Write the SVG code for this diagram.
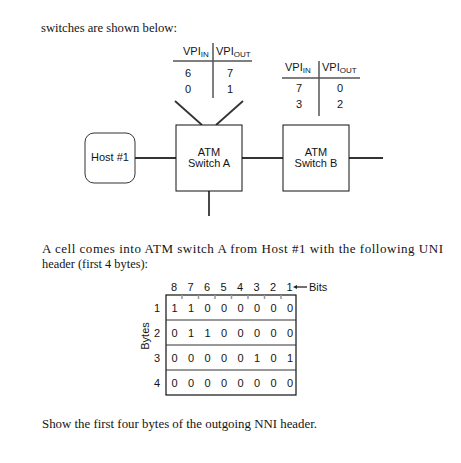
<svg xmlns="http://www.w3.org/2000/svg" width="461" height="463" viewBox="0 0 461 463">
<defs>
<marker id="arr" viewBox="0 0 10 10" refX="1" refY="5" markerWidth="4.5" markerHeight="4.5" orient="auto-start-reverse" markerUnits="userSpaceOnUse">
<path d="M0,0 L10,5 L0,10 z" fill="#222"/>
</marker>
<style>
.para{font-family:"Liberation Serif","Times New Roman",serif;font-size:13px;fill:#141414}
.sans{font-family:"Liberation Sans",Arial,sans-serif;font-size:11px;fill:#141414}
.sub{font-size:8px}
.mid{text-anchor:middle}
.end{text-anchor:end}
.box{fill:#fff;stroke:#111;stroke-width:1}
.conn{stroke:#333;stroke-width:1.8;fill:none}
.tline{stroke:#555;stroke-width:1.5;fill:none}
.tick{stroke:#999;stroke-width:1.5}
.row{stroke:#333;stroke-width:1}
</style>
</defs>
<rect width="461" height="463" fill="#fff"/>

<text class="para" x="41" y="32" textLength="136" lengthAdjust="spacingAndGlyphs">switches are shown below:</text>

<g id="connectors">
<line class="conn" x1="135" y1="158" x2="176" y2="158"/>
<line class="conn" x1="242" y1="158" x2="283" y2="158"/>
<line class="conn" x1="349" y1="158" x2="383" y2="158"/>
<line class="conn" x1="209" y1="191" x2="209" y2="216" stroke="#111" stroke-width="2.2"/>
<line class="conn" x1="175" y1="101" x2="202" y2="125" stroke="#111" stroke-width="2"/>
<line class="conn" x1="243" y1="101" x2="216" y2="125" stroke="#111" stroke-width="2"/>
</g>

<g id="host1">
<rect x="85" y="133" width="50" height="50" rx="9" fill="#fff" stroke="#333" stroke-width="1"/>
<text class="sans mid" x="110" y="161" font-size="10.5">Host #1</text>
</g>

<g id="switchA">
<rect class="box" x="176" y="125" width="66" height="66"/>
<text class="sans mid" x="209" y="156">ATM</text>
<text class="sans mid" x="209" y="167">Switch A</text>
</g>

<g id="switchB">
<rect class="box" x="283" y="125" width="66" height="66"/>
<text class="sans mid" x="316" y="156">ATM</text>
<text class="sans mid" x="316" y="167">Switch B</text>
</g>

<g id="tableA">
<line class="tline" x1="173" y1="61" x2="252" y2="61"/>
<line class="tline" x1="213" y1="43" x2="213" y2="98"/>
<text class="sans" x="183" y="55">VPI<tspan class="sub" dy="2">IN</tspan></text>
<text class="sans" x="216" y="55">VPI<tspan class="sub" dy="2">OUT</tspan></text>
<text class="sans mid" x="188" y="77">6</text>
<text class="sans mid" x="230" y="77">7</text>
<text class="sans mid" x="188" y="93">0</text>
<text class="sans mid" x="230" y="93">1</text>
</g>

<g id="tableB">
<line class="tline" x1="282" y1="78" x2="360" y2="78"/>
<line class="tline" x1="319" y1="61" x2="319" y2="116"/>
<text class="sans" x="285" y="71">VPI<tspan class="sub" dy="2">IN</tspan></text>
<text class="sans" x="322" y="71">VPI<tspan class="sub" dy="2">OUT</tspan></text>
<text class="sans mid" x="299" y="92">7</text>
<text class="sans mid" x="340" y="92">0</text>
<text class="sans mid" x="299" y="108">3</text>
<text class="sans mid" x="340" y="108">2</text>
</g>

<text class="para" x="42" y="253" textLength="401" lengthAdjust="spacing">A cell comes into ATM switch A from Host #1 with the following UNI</text>
<text class="para" x="42" y="268" textLength="106" lengthAdjust="spacingAndGlyphs">header (first 4 bytes):</text>

<g id="bitTable">
<g class="sans mid">
<text x="174" y="291">8</text><text x="190.5" y="291">7</text><text x="207" y="291">6</text><text x="223.5" y="291">5</text>
<text x="240" y="291">4</text><text x="256.5" y="291">3</text><text x="273" y="291">2</text><text x="289.5" y="291">1</text>
</g>
<line x1="307" y1="287" x2="297" y2="287" stroke="#222" stroke-width="1.3" marker-end="url(#arr)"/>
<text class="sans" x="309" y="291">Bits</text>
<rect x="166" y="295" width="130" height="100" fill="none" stroke="#111" stroke-width="1.2"/>
<line class="row" x1="166" y1="320" x2="296" y2="320"/>
<line class="row" x1="166" y1="345" x2="296" y2="345" stroke="#777"/>
<line class="row" x1="166" y1="370" x2="296" y2="370" stroke="#777"/>
<g class="tick">
<line x1="182" y1="295" x2="182" y2="299"/><line x1="198.5" y1="295" x2="198.5" y2="299"/>
<line x1="215" y1="295" x2="215" y2="299"/><line x1="231.5" y1="295" x2="231.5" y2="299"/>
<line x1="248" y1="295" x2="248" y2="299"/><line x1="264.5" y1="295" x2="264.5" y2="299"/>
<line x1="281" y1="295" x2="281" y2="299"/>
</g>
<g class="sans end">
<text x="160" y="312">1</text><text x="160" y="337">2</text><text x="160" y="362">3</text><text x="160" y="387">4</text>
</g>
<text class="sans mid" transform="translate(149,336) rotate(-90)" font-size="10.5">Bytes</text>
<g class="sans mid">
<text x="174.5" y="312">1</text><text x="191" y="312">1</text><text x="207.5" y="312">0</text><text x="224" y="312">0</text><text x="240.5" y="312">0</text><text x="257" y="312">0</text><text x="273.5" y="312">0</text><text x="290" y="312">0</text>
<text x="174.5" y="337">0</text><text x="191" y="337">1</text><text x="207.5" y="337">1</text><text x="224" y="337">0</text><text x="240.5" y="337">0</text><text x="257" y="337">0</text><text x="273.5" y="337">0</text><text x="290" y="337">0</text>
<text x="174.5" y="362">0</text><text x="191" y="362">0</text><text x="207.5" y="362">0</text><text x="224" y="362">0</text><text x="240.5" y="362">0</text><text x="257" y="362">1</text><text x="273.5" y="362">0</text><text x="290" y="362">1</text>
<text x="174.5" y="387">0</text><text x="191" y="387">0</text><text x="207.5" y="387">0</text><text x="224" y="387">0</text><text x="240.5" y="387">0</text><text x="257" y="387">0</text><text x="273.5" y="387">0</text><text x="290" y="387">0</text>
</g>
</g>

<text class="para" x="42" y="428" textLength="275" lengthAdjust="spacingAndGlyphs">Show the first four bytes of the outgoing NNI header.</text>
</svg>
